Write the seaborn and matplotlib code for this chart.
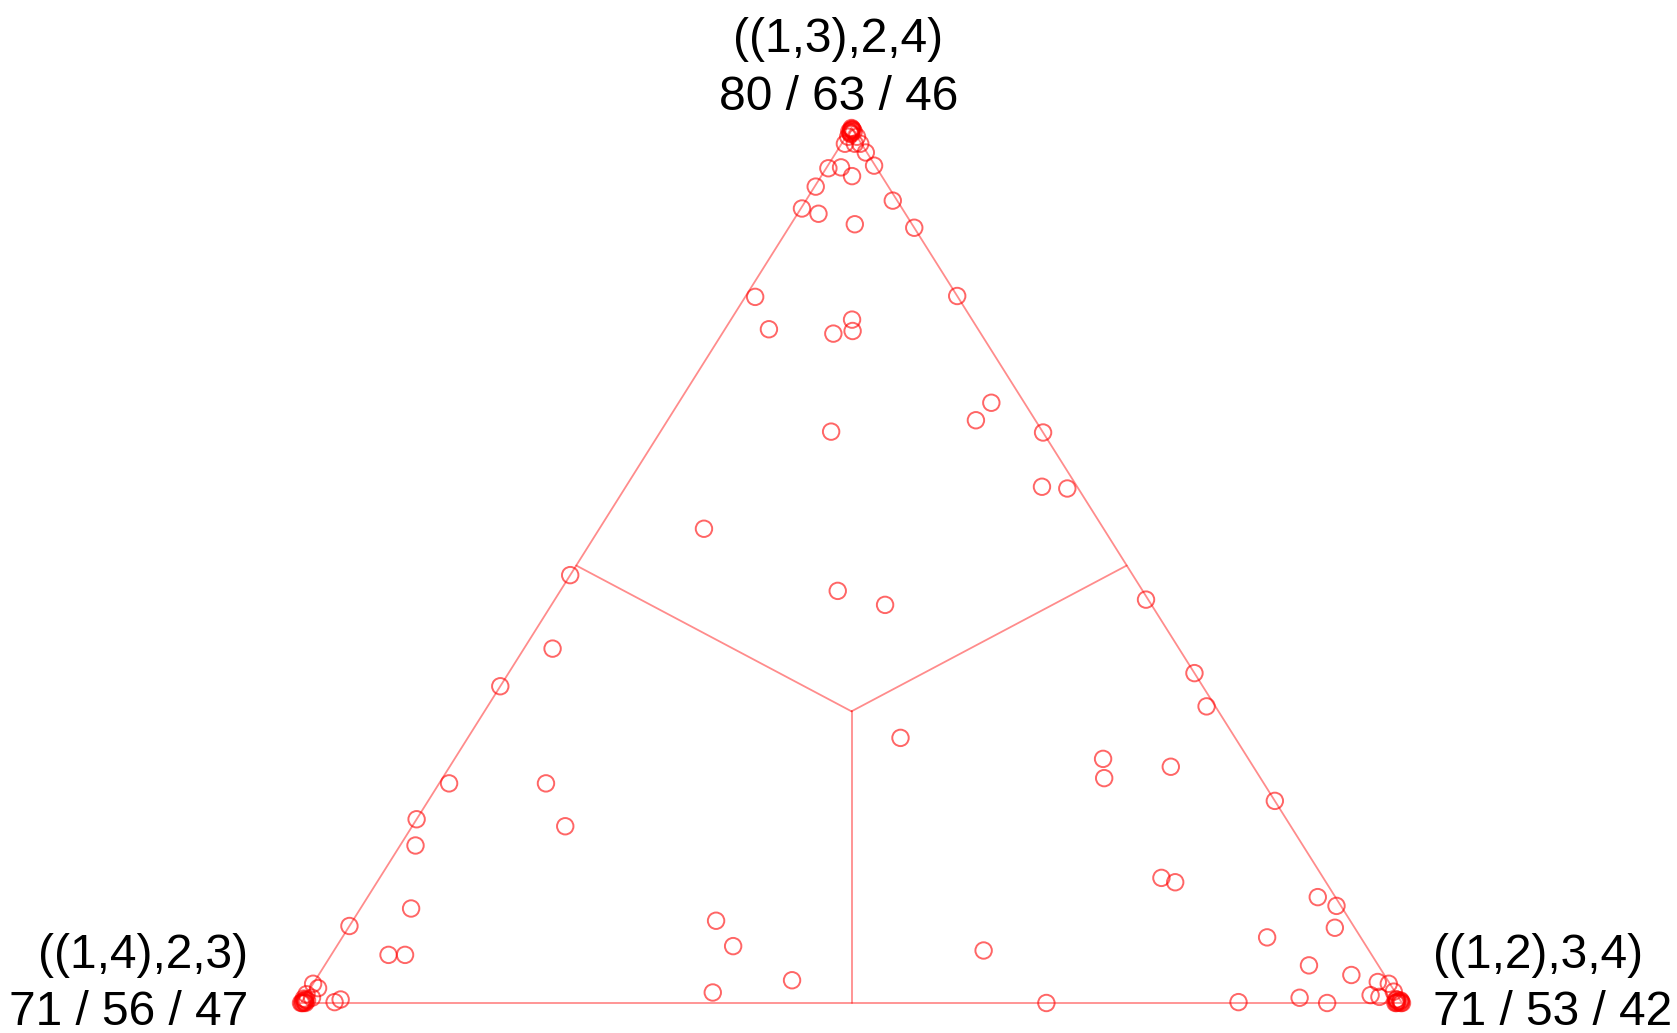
import numpy as np
import pandas as pd
import matplotlib
matplotlib.use("Agg")
import matplotlib.pyplot as plt
import seaborn as sns

# Quartet topologies at the corners: top, left, right
topologies = ["((1,3),2,4)", "((1,4),2,3)", "((1,2),3,4)"]
support_counts = ["80 / 63 / 46", "71 / 56 / 47", "71 / 53 / 42"]

# Relative support of each gene tree for the three topologies
top_weight = [
    1.000, 0.996, 0.996, 0.993, 0.990, 0.990, 0.982, 0.982, 0.982, 0.972,
    0.957, 0.955, 0.954, 0.945, 0.933, 0.908, 0.902, 0.917, 0.886, 0.890,
    0.807, 0.808, 0.770, 0.765, 0.768, 0.781, 0.686, 0.666, 0.652, 0.653,
    0.590, 0.588, 0.542, 0.471, 0.455, 0.489, 0.461,
    0.998, 0.997, 0.999, 0.995, 0.998, 0.994,
    0.405, 0.362, 0.251, 0.251, 0.202, 0.210, 0.180, 0.108, 0.088, 0.055,
    0.055, 0.094, 0.065, 0.026, 0.012,
    0.000, 0.003, 0.000, 0.005, 0.022, 0.017, 0.010, 0.006, 0.001, 0.004,
    0.000, 0.002, 0.001, 0.004, 0.000, 0.003,
    0.303, 0.279, 0.257, 0.270, 0.377, 0.339, 0.231, 0.143, 0.138, 0.060,
    0.000, 0.001, 0.075, 0.006, 0.043, 0.121, 0.000, 0.111, 0.086, 0.032,
    0.009, 0.024, 0.022, 0.013, 0.007, 0.004,
    0.000, 0.002, 0.000, 0.003, 0.001, 0.000, 0.002, 0.004, 0.001, 0.000,
]
left_weight = [
    0.000, 0.000, 0.004, 0.004, 0.008, 0.000, 0.015, 0.006, 0.001, 0.001,
    0.001, 0.032, 0.044, 0.027, 0.066, 0.091, 0.079, 0.004, 0.000, 0.052,
    0.184, 0.000, 0.190, 0.134, 0.115, 0.109, 0.030, 0.054, 0.000, 0.192,
    0.032, 0.010, 0.363, 0.277, 0.242, 0.511, 0.002,
    0.001, 0.002, 0.000, 0.003, 0.000, 0.004,
    0.569, 0.638, 0.740, 0.652, 0.659, 0.790, 0.806, 0.846, 0.912, 0.893,
    0.878, 0.576, 0.575, 0.541, 0.620,
    1.000, 0.995, 0.996, 0.995, 0.978, 0.976, 0.990, 0.987, 0.969, 0.962,
    0.999, 0.997, 0.996, 0.994, 0.998, 0.993,
    0.304, 0.132, 0.142, 0.075, 0.000, 0.008, 0.000, 0.147, 0.137, 0.350,
    0.323, 0.148, 0.085, 0.090, 0.063, 0.016, 0.068, 0.004, 0.018, 0.030,
    0.024, 0.010, 0.001, 0.001, 0.017, 0.003,
    0.000, 0.003, 0.005, 0.000, 0.002, 0.001, 0.000, 0.003, 0.004, 0.006,
]
right_weight = [
    0.000, 0.004, 0.000, 0.003, 0.002, 0.010, 0.003, 0.012, 0.017, 0.027,
    0.042, 0.013, 0.002, 0.028, 0.001, 0.001, 0.019, 0.079, 0.114, 0.058,
    0.009, 0.192, 0.040, 0.101, 0.117, 0.110, 0.284, 0.280, 0.348, 0.155,
    0.378, 0.402, 0.095, 0.252, 0.303, 0.000, 0.537,
    0.001, 0.001, 0.001, 0.002, 0.002, 0.002,
    0.026, 0.000, 0.009, 0.097, 0.139, 0.000, 0.014, 0.046, 0.000, 0.052,
    0.067, 0.330, 0.360, 0.433, 0.368,
    0.000, 0.002, 0.004, 0.000, 0.000, 0.007, 0.000, 0.007, 0.030, 0.034,
    0.001, 0.001, 0.003, 0.002, 0.002, 0.004,
    0.393, 0.589, 0.601, 0.655, 0.623, 0.653, 0.769, 0.710, 0.725, 0.590,
    0.677, 0.851, 0.840, 0.904, 0.894, 0.863, 0.932, 0.885, 0.896, 0.938,
    0.967, 0.966, 0.977, 0.986, 0.976, 0.993,
    1.000, 0.995, 0.995, 0.997, 0.997, 0.999, 0.998, 0.993, 0.995, 0.994,
]


def to_xy(top, left, right):
    """Barycentric (top, left, right) -> plane coordinates of the simplex."""
    top = np.asarray(top, dtype=float)
    left = np.asarray(left, dtype=float)
    right = np.asarray(right, dtype=float)
    total = top + left + right
    return (right + top / 2) / total, top / total


x, y = to_xy(top_weight, left_weight, right_weight)
df = pd.DataFrame({"x": x, "y": y})

sns.set_style("white")
plt.rcParams["font.family"] = ["Liberation Sans", "DejaVu Sans"]

fig = plt.figure(figsize=(16.77, 10.33), dpi=100)
ax = fig.add_axes([301 / 1677, 30 / 1033, 1101 / 1677, 875 / 1033])
ax.set_xlim(0, 1)
ax.set_ylim(0, 1)
ax.set_axis_off()

line_kw = dict(color="red", alpha=0.45, lw=1.3, solid_capstyle="round",
               clip_on=False, zorder=1)

# Simplex outline
corner_x, corner_y = to_xy([1, 0, 0, 1], [0, 1, 0, 0], [0, 0, 1, 0])
ax.plot(corner_x, corner_y, **line_kw)

# Boundaries between the three regions: centroid to edge midpoints
cx, cy = to_xy([1 / 3], [1 / 3], [1 / 3])
mid_x, mid_y = to_xy([0.5, 0.5, 0.0], [0.5, 0.0, 0.5], [0.0, 0.5, 0.5])
for mx, my in zip(mid_x, mid_y):
    ax.plot([cx[0], mx], [cy[0], my], **line_kw)

sns.scatterplot(data=df, x="x", y="y", marker="o", s=140, linewidth=1.4,
                ax=ax, legend=False, zorder=2, clip_on=False)
pts = ax.collections[-1]
pts.set_facecolor("none")
pts.set_edgecolor((1.0, 0.0, 0.0, 0.6))

# Corner labels: topology name and counts
vx, vy = to_xy([1, 0, 0], [0, 1, 0], [0, 0, 1])
label_kw = dict(xycoords="data", textcoords="offset pixels", fontsize=34.5,
                va="baseline", color="black", annotation_clip=False)
# top
ax.annotate(topologies[0], (vx[0], vy[0]), xytext=(-13, 76), ha="center", **label_kw)
ax.annotate(support_counts[0], (vx[0], vy[0]), xytext=(-13, 18), ha="center", **label_kw)
# left
ax.annotate(topologies[1], (vx[1], vy[1]), xytext=(-53, 35), ha="right", **label_kw)
ax.annotate(support_counts[1], (vx[1], vy[1]), xytext=(-53, -22), ha="right", **label_kw)
# right
ax.annotate(topologies[2], (vx[2], vy[2]), xytext=(31, 35), ha="left", **label_kw)
ax.annotate(support_counts[2], (vx[2], vy[2]), xytext=(31, -22), ha="left", **label_kw)

fig.savefig("out.png", dpi=100, facecolor="white")
